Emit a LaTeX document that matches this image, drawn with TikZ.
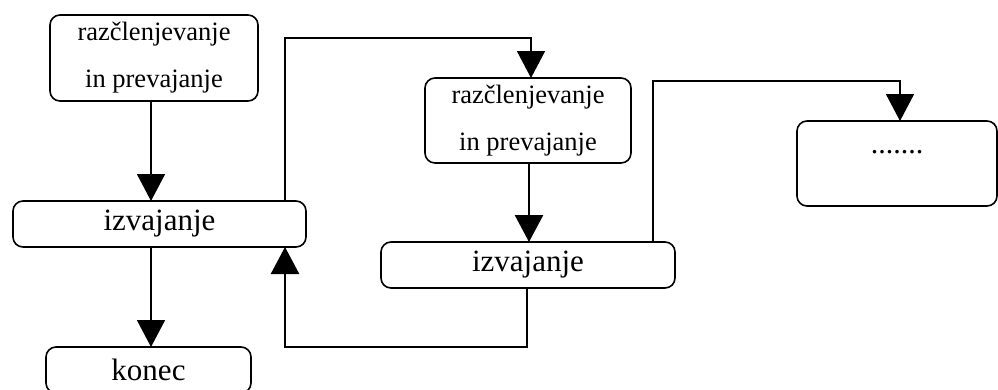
\documentclass[tikz,border=0pt]{standalone}
\usepackage{fontspec}
\setmainfont{Liberation Serif}
\usepackage{tikz}
\usetikzlibrary{shapes,arrows.meta}
\usetikzlibrary{positioning}

\begin{document}
\begin{tikzpicture}[x=1pt,y=1pt]
\tikzset{
box/.style={draw, rounded corners=10pt, line width=1.6pt, inner sep=0pt, outer sep=0pt},
parsebox/.style={box, minimum width=208pt, minimum height=86pt, align=center,
    font=\fontsize{26.5}{47}\selectfont},
runbox/.style={box, minimum width=293pt, minimum height=46pt,
    font=\fontsize{31}{37}\selectfont},
flowarrow/.style={draw, line width=1.7pt, -{Triangle[length=27pt,width=28pt]}},
thickarrow/.style={flowarrow, line width=2.6pt}
 }
\useasboundingbox (0,0) rectangle (998,-389);

\node[parsebox] (parse1) at (154,-58) {raz\v{c}lenjevanje\\in prevajanje};
\node[runbox, below=100pt of parse1, xshift=5.5pt] (run1) {izvajanje};
\node[runbox, minimum width=205pt, below=100pt of run1, xshift=-11pt] (konec) {konec};

\node[parsebox, minimum width=206pt, minimum height=85pt,
    above right=38pt and 119pt of run1] (parse2) {raz\v{c}lenjevanje\\in prevajanje};
\node[runbox, minimum width=294pt, below=79pt of parse2] (run2) {izvajanje};

% the dots sit in the upper half of the box
\node[parsebox, minimum width=200pt, minimum height=85pt,
    font=\fontsize{30}{47}\selectfont,
    above right=36pt and 122pt of run2] (more) {.......\\[-24pt] {}};

\draw[flowarrow] ([xshift=-3pt]parse1.south) -- ([xshift=-3pt]parse1.south |- run1.north);
\draw[flowarrow] ([xshift=-8.5pt]run1.south) -- ([xshift=-8.5pt]run1.south |- konec.north);
\draw[flowarrow] ([xshift=125.5pt]run1.north) -- ++(0,163) -| ([xshift=3pt]parse2.north);
\draw[thickarrow] ([xshift=1pt]parse2.south) -- ([xshift=1pt]parse2.south |- run2.north);
\draw[thickarrow] ([xshift=-1pt]run2.south) -- ++(0,-59) -| ([xshift=125.5pt]run1.south);
\draw[flowarrow] ([xshift=125pt]run2.north) -- ++(0,161) -| ([xshift=3pt]more.north);
\end{tikzpicture}
\end{document}
